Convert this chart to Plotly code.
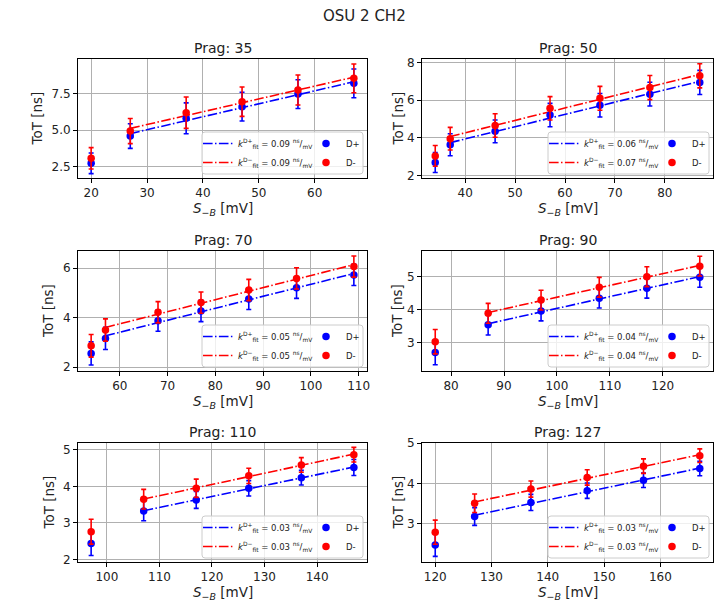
import numpy as np
import plotly.graph_objects as go

# page body has an 8px margin: draw a 720x597 figure and shift coordinates
OFF = 8
W, H = 728 - OFF, 605 - OFF
FONT = "DejaVu Sans"

suptitle = "OSU 2 CH2"
prag_values = [35, 50, 70, 90, 110, 127]

x_p35 = [20, 27, 37, 47, 57, 67]
dplus_p35 = [2.73, 4.59, 5.80, 6.59, 7.45, 8.18]
dplus_err_p35 = [0.70, 0.84, 1.05, 0.98, 0.98, 0.98]
dminus_p35 = [3.07, 4.93, 6.18, 6.93, 7.73, 8.52]
dminus_err_p35 = [0.73, 0.86, 1.07, 1.00, 1.02, 0.98]
kfit_p35 = ["0.09", "0.09"]

x_p50 = [34, 37, 46, 57, 67, 77, 87]
dplus_p50 = [2.70, 3.64, 4.35, 5.21, 5.73, 6.32, 6.94]
dplus_err_p50 = [0.53, 0.58, 0.60, 0.62, 0.62, 0.63, 0.64]
dminus_p50 = [3.05, 3.96, 4.66, 5.57, 6.10, 6.67, 7.29]
dminus_err_p50 = [0.55, 0.60, 0.62, 0.62, 0.63, 0.64, 0.64]
kfit_p50 = ["0.06", "0.07"]

x_p70 = [54, 57, 68, 77, 87, 97, 109]
dplus_p70 = [2.55, 3.16, 3.88, 4.27, 4.76, 5.21, 5.73]
dplus_err_p70 = [0.47, 0.45, 0.43, 0.43, 0.43, 0.43, 0.43]
dminus_p70 = [2.86, 3.50, 4.22, 4.61, 5.12, 5.59, 6.07]
dminus_err_p70 = [0.46, 0.45, 0.43, 0.43, 0.43, 0.43, 0.43]
kfit_p70 = ["0.05", "0.05"]

x_p90 = [77, 87, 97, 108, 117, 127]
dplus_p90 = [2.70, 3.54, 3.96, 4.35, 4.65, 4.98]
dplus_err_p90 = [0.37, 0.31, 0.30, 0.30, 0.30, 0.30]
dminus_p90 = [3.03, 3.89, 4.29, 4.68, 5.00, 5.32]
dminus_err_p90 = [0.37, 0.30, 0.30, 0.30, 0.30, 0.30]
kfit_p90 = ["0.04", "0.04"]

x_p110 = [97, 107, 117, 127, 137, 147]
dplus_p110 = [2.44, 3.33, 3.63, 3.95, 4.24, 4.52]
dplus_err_p110 = [0.33, 0.27, 0.23, 0.21, 0.20, 0.22]
dminus_p110 = [2.76, 3.65, 3.95, 4.29, 4.59, 4.87]
dminus_err_p110 = [0.34, 0.27, 0.25, 0.21, 0.20, 0.20]
kfit_p110 = ["0.03", "0.03"]

x_p127 = [120, 127, 137, 147, 157, 167]
dplus_p127 = [2.47, 3.18, 3.53, 3.82, 4.08, 4.37]
dplus_err_p127 = [0.28, 0.22, 0.20, 0.19, 0.18, 0.18]
dminus_p127 = [2.79, 3.51, 3.86, 4.15, 4.43, 4.69]
dminus_err_p127 = [0.30, 0.23, 0.20, 0.19, 0.18, 0.17]
kfit_p127 = ["0.03", "0.03"]

panels = [
    (x_p35, dplus_p35, dplus_err_p35, dminus_p35, dminus_err_p35, kfit_p35),
    (x_p50, dplus_p50, dplus_err_p50, dminus_p50, dminus_err_p50, kfit_p50),
    (x_p70, dplus_p70, dplus_err_p70, dminus_p70, dminus_err_p70, kfit_p70),
    (x_p90, dplus_p90, dplus_err_p90, dminus_p90, dminus_err_p90, kfit_p90),
    (x_p110, dplus_p110, dplus_err_p110, dminus_p110, dminus_err_p110, kfit_p110),
    (x_p127, dplus_p127, dplus_err_p127, dminus_p127, dminus_err_p127, kfit_p127),
]

# layout (window pixels)
col_x = [(78, 367), (422, 713)]
row_y = [(59, 178), (251, 371), (443, 562)]
x_ranges = [(17.65, 69.35), (31.35, 89.65), (51.25, 111.75), (74.5, 129.5), (94.5, 149.5), (117.65, 169.35)]
y_ranges = [(1.73, 9.84), (1.88, 8.18), (1.84, 6.70), (2.14, 5.78), (1.93, 5.19), (2.05, 5.005)]
y_dticks = [2.5, 2, 2, 1, 1, 1]
y_fmts = [".1f", "d", "d", "d", "d", "d"]
ylabel_x = [36, 397, 48, 397, 48, 397]

BLUE = "#0000ff"
RED = "#ff0000"
DASHDOT = "9.6px,2.4px,1.5px,2.4px"

fig = go.Figure()
shapes = []
annotations = []
layout = dict(
    width=W, height=H,
    margin=dict(l=0, r=0, t=0, b=0, autoexpand=False),
    paper_bgcolor="white", plot_bgcolor="white",
    font=dict(family=FONT, color="black"),
)

def fx(px):
    return (px - OFF) / W

def fy(py):
    return 1 - (py - OFF) / H

for i, (xs, dp, dpe, dm, dme, kf) in enumerate(panels):
    r, c = divmod(i, 2)
    x0, x1 = col_x[c]
    y0, y1 = row_y[r]
    suffix = "" if i == 0 else str(i + 1)
    xref = "x" + suffix
    yref = "y" + suffix
    leg_line = "legend" if i == 0 else f"legend{2 * i + 1}"
    leg_mark = f"legend{2 * i + 2}"

    xs_a = np.array(xs, dtype=float)
    # linear fits (excluding first point)
    for yv, col, lab in ((dp, BLUE, "D+"), (dm, RED, "D−")):
        yv_a = np.array(yv, dtype=float)
        p = np.polyfit(xs_a[1:], yv_a[1:], 1)
        k = kf[0] if lab == "D+" else kf[1]
        fig.add_trace(go.Scatter(
            x=xs_a[1:], y=np.polyval(p, xs_a[1:]), mode="lines",
            line=dict(color=col, width=1.6, dash=DASHDOT),
            name=f"<i>k</i><sup>{lab}</sup><sub>fit</sub> = {k} <sup>ns</sup>/<sub>mV</sub>",
            xaxis=xref, yaxis=yref, legend=leg_line, hoverinfo="skip",
        ))
    for yv, ev, col, lab in ((dp, dpe, BLUE, "D+"), (dm, dme, RED, "D-")):
        fig.add_trace(go.Scatter(
            x=xs, y=yv, mode="markers",
            marker=dict(color=col, size=7.5, line=dict(width=0)),
            error_y=dict(type="data", array=ev, color=col, thickness=1.6, width=2.5),
            name=lab, xaxis=xref, yaxis=yref, legend=leg_mark,
        ))

    axis_common = dict(
        showline=True, mirror=True, linecolor="black", linewidth=1,
        ticks="outside", ticklen=4, tickwidth=1, tickcolor="black",
        showgrid=True, gridcolor="#b0b0b0", gridwidth=0.8, zeroline=False,
        automargin=False,
        tickfont=dict(size=12, family=FONT, color="#222"),
    )
    layout["xaxis" + suffix] = dict(
        axis_common, domain=[fx(x0), fx(x1)], anchor=yref,
        range=list(x_ranges[i]), dtick=10, tick0=0,
    )
    layout["yaxis" + suffix] = dict(
        axis_common, domain=[fy(y1), fy(y0)], anchor=xref,
        range=list(y_ranges[i]), dtick=y_dticks[i], tick0=0, tickformat=y_fmts[i],
    )

    # subplot title
    annotations.append(dict(
        text=f"Prag: {prag_values[i]}", x=fx((x0 + x1) / 2), y=fy(y0 - 11),
        xref="paper", yref="paper", showarrow=False, xanchor="center", yanchor="middle",
        font=dict(size=14, family=FONT, color="#222"),
    ))
    annotations.append(dict(
        text="ToT [ns]", x=fx(ylabel_x[i]), y=fy((y0 + y1) / 2), textangle=-90,
        xref="paper", yref="paper", showarrow=False, xanchor="center", yanchor="middle",
        font=dict(size=13.5, family=FONT, color="#222"),
    ))
    annotations.append(dict(
        text="<i>S</i><sub>−<i>B</i></sub> [mV]", x=fx((x0 + x1) / 2), y=fy(y1 + 31),
        xref="paper", yref="paper", showarrow=False, xanchor="center", yanchor="middle",
        font=dict(size=13.5, family=FONT, color="#222"),
    ))

    # legend frame
    bx0, bx1 = x1 - 165, x1 - 4
    by1 = y1 - 4
    by0 = by1 - 42
    rx, ry = 3 / W, 3 / H
    X0, X1, Y0, Y1 = fx(bx0), fx(bx1), fy(by1), fy(by0)
    path = (f"M {X0 + rx},{Y0} L {X1 - rx},{Y0} Q {X1},{Y0} {X1},{Y0 + ry} "
            f"L {X1},{Y1 - ry} Q {X1},{Y1} {X1 - rx},{Y1} L {X0 + rx},{Y1} "
            f"Q {X0},{Y1} {X0},{Y1 - ry} L {X0},{Y0 + ry} Q {X0},{Y0} {X0 + rx},{Y0} Z")
    shapes.append(dict(type="path", path=path, xref="paper", yref="paper",
                       fillcolor="rgba(255,255,255,0.8)", line=dict(color="#cccccc", width=1),
                       layer="above"))
    leg_common = dict(
        xanchor="left", yanchor="top", bgcolor="rgba(0,0,0,0)", borderwidth=0,
        font=dict(size=8.5, family=FONT, color="#222"), itemwidth=30,
        tracegroupgap=0, orientation="v",
    )
    layout[leg_line] = dict(leg_common, x=fx(bx0 - 4), y=fy(by0 - 3))
    layout[leg_mark] = dict(leg_common, x=fx(bx0 + 104), y=fy(by0 - 3))

annotations.append(dict(
    text=suptitle, x=fx(364), y=fy(16), xref="paper", yref="paper", showarrow=False,
    xanchor="center", yanchor="middle", font=dict(size=15, family=FONT, color="#222"),
))

layout["shapes"] = shapes
layout["annotations"] = annotations
layout["showlegend"] = True
fig.update_layout(**layout)
fig.write_html("out.html")
